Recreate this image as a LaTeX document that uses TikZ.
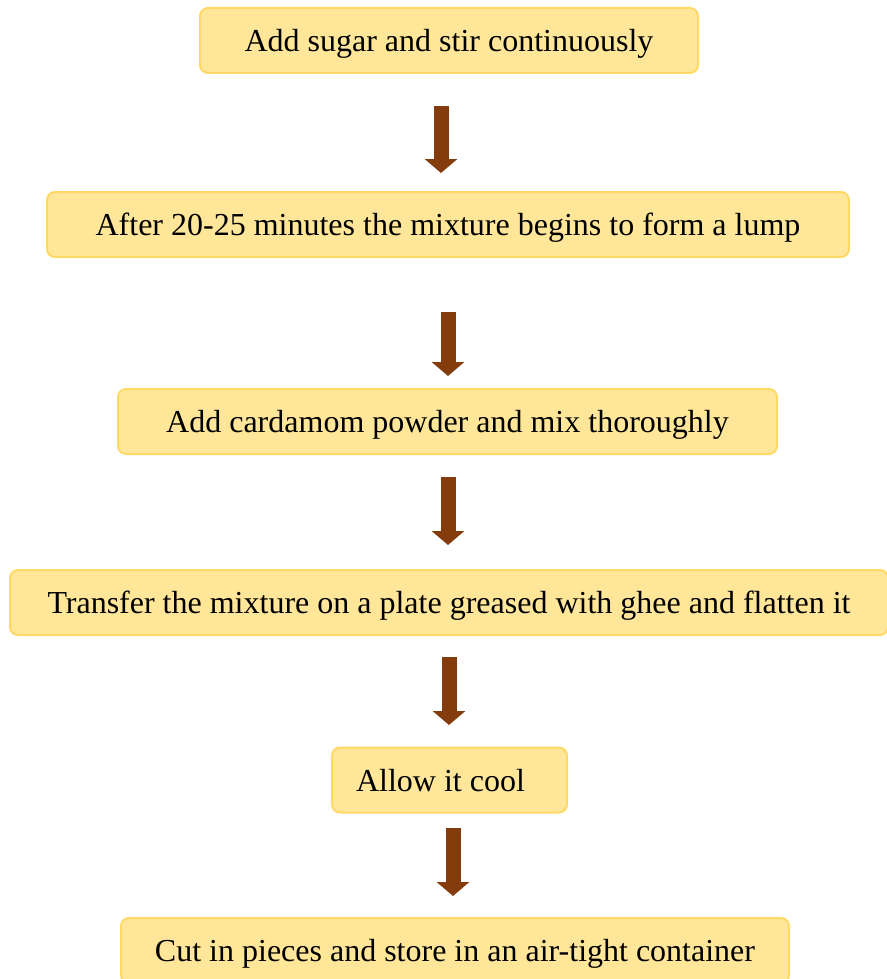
\documentclass[tikz,border=0pt]{standalone}
\usepackage{fontspec}
\setmainfont{Liberation Serif}
\usepackage{tikz}
\usetikzlibrary{arrows.meta, positioning}
\definecolor{stepfill}{HTML}{FFE699}
\definecolor{stepline}{HTML}{FFD966}
\definecolor{arrowbrown}{HTML}{843C0C}

\begin{document}
\begin{tikzpicture}[x=1pt, y=-1pt,
    stepbox/.style={draw=stepline, fill=stepfill, line width=2pt, rounded corners=8pt,
        minimum height=65pt, inner sep=0pt, text height=22pt, text depth=0pt,
        font=\fontsize{32}{38}\selectfont},
    blockarrow/.style={draw=arrowbrown, line width=15pt,
        -{Triangle[width=32pt, length=14pt, fill=arrowbrown]}}]
    \useasboundingbox (0,0) rectangle (886,979);
    % the steps, top to bottom
    \node[stepbox, minimum width=498pt] (s1) at (449,40.5) {Add sugar and stir continuously};
    \node[stepbox, minimum width=802pt] (s2) at (448,224.5) {After 20-25 minutes the mixture begins to form a lump};
    \node[stepbox, minimum width=659pt] (s3) at (447.5,421.5) {Add cardamom powder and mix thoroughly};
    \node[stepbox, minimum width=878pt] (s4) at (449,602.5) {Transfer the mixture on a plate greased with ghee and flatten it};
    \node[stepbox, minimum width=235pt] (s5) at (449.5,780) {Allow it cool\hspace*{18pt}};
    \node[stepbox, minimum width=668pt] (s6) at (455,950.5) {Cut in pieces and store in an air-tight container};
    % arrows sit in the gaps, not touching the boxes
    \coordinate (t1) at (441,106); \coordinate (h1) at (441,173);
    \coordinate (t2) at (448,312); \coordinate (h2) at (448,376);
    \coordinate (t3) at (448,477); \coordinate (h3) at (448,545);
    \coordinate (t4) at (449,657); \coordinate (h4) at (449,725);
    \coordinate (t5) at (453,828); \coordinate (h5) at (453,896);
    \foreach \i in {1,...,5}
        \draw[blockarrow] (t\i) -- (h\i);
\end{tikzpicture}
\end{document}
